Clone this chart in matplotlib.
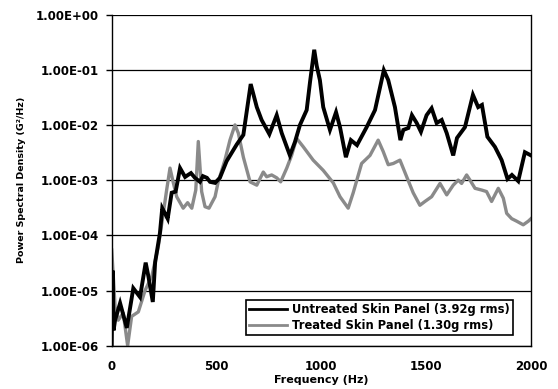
import matplotlib
matplotlib.use("Agg")
import matplotlib.pyplot as plt
from matplotlib.lines import Line2D
from matplotlib.ticker import FixedLocator, FuncFormatter, NullLocator

# ---- data ----
untreated_freq = [0, 4, 9, 16, 40, 72, 103, 135, 162, 175, 196, 207, 230, 241, 254, 267,
                  286, 305, 326, 350, 364, 378, 397, 421, 435, 454, 469, 493, 516, 548,
                  596, 628, 636, 663, 692, 715, 752, 787, 811, 850, 874, 898, 930, 946,
                  966, 978, 993, 1009, 1041, 1070, 1089, 1117, 1141, 1170, 1216, 1256,
                  1298, 1319, 1351, 1377, 1391, 1415, 1432, 1455, 1475, 1502, 1526, 1550,
                  1574, 1598, 1629, 1647, 1685, 1723, 1748, 1766, 1792, 1828, 1860, 1888,
                  1909, 1939, 1971, 2000]
untreated_psd = [1.0e-6, 2.3e-5, 1.9e-6, 2.9e-6, 5.9e-6, 2.1e-6, 1.1e-5, 7.6e-6, 3.2e-5,
                 1.8e-5, 6.2e-6, 3.2e-5, 1.1e-4, 3.1e-4, 2.5e-4, 2.0e-4, 5.9e-4, 6.2e-4,
                 1.65e-3, 1.14e-3, 1.24e-3, 1.34e-3, 1.1e-3, 9.3e-4, 1.18e-3, 1.1e-3,
                 9.3e-4, 8.9e-4, 1.1e-3, 2.2e-3, 4.4e-3, 6.6e-3, 1.08e-2, 5.5e-2, 2.1e-2,
                 1.23e-2, 6.8e-3, 1.5e-2, 7.1e-3, 2.8e-3, 4.9e-3, 1.0e-2, 1.86e-2, 6.0e-2,
                 0.23, 0.117, 6.5e-2, 2.1e-2, 8.1e-3, 1.7e-2, 9.1e-3, 2.6e-3, 5.3e-3,
                 4.3e-3, 9.1e-3, 1.86e-2, 0.098, 6.5e-2, 2.1e-2, 5.3e-3, 8.1e-3, 8.8e-3,
                 1.5e-2, 1.08e-2, 7.5e-3, 1.5e-2, 2.0e-2, 1.08e-2, 1.23e-2, 7.1e-3, 2.8e-3,
                 5.8e-3, 9.1e-3, 3.5e-2, 2.1e-2, 2.3e-2, 6.1e-3, 4.0e-3, 2.3e-3, 1.05e-3,
                 1.24e-3, 9.6e-4, 3.2e-3, 2.8e-3]

treated_freq = [0, 6, 16, 31, 55, 76, 95, 127, 159, 191, 222, 246, 262, 278, 294, 310,
                341, 362, 382, 401, 413, 429, 445, 464, 493, 508, 540, 564, 588, 604,
                628, 660, 692, 723, 739, 763, 787, 806, 835, 858, 882, 914, 961, 1009,
                1057, 1089, 1128, 1152, 1192, 1232, 1271, 1295, 1319, 1343, 1375, 1407,
                1438, 1470, 1494, 1526, 1566, 1598, 1629, 1653, 1669, 1693, 1709, 1733,
                1765, 1788, 1812, 1828, 1844, 1868, 1884, 1908, 1932, 1963, 1987, 2000]
treated_psd = [5.4e-5, 2.3e-5, 5.1e-6, 2.9e-6, 3.9e-6, 1.0e-6, 3.4e-6, 4.1e-6, 1.0e-5,
               1.8e-5, 6.2e-5, 2.5e-4, 6.6e-4, 1.65e-3, 8.9e-4, 5.0e-4, 3.1e-4, 3.9e-4,
               3.1e-4, 6.6e-4, 5.0e-3, 6.2e-4, 3.3e-4, 3.1e-4, 5.0e-4, 9.3e-4, 2.3e-3,
               5.3e-3, 1.0e-2, 7.1e-3, 2.6e-3, 9.3e-4, 8.1e-4, 1.4e-3, 1.15e-3, 1.24e-3,
               1.1e-3, 9.3e-4, 1.65e-3, 2.8e-3, 5.7e-3, 4.0e-3, 2.3e-3, 1.5e-3, 8.9e-4,
               5.0e-4, 3.1e-4, 5.9e-4, 2.0e-3, 2.8e-3, 5.3e-3, 3.3e-3, 1.9e-3, 2.0e-3,
               2.3e-3, 1.15e-3, 5.9e-4, 3.5e-4, 4.1e-4, 5.0e-4, 8.7e-4, 5.4e-4, 8.1e-4,
               1.0e-3, 8.7e-4, 1.24e-3, 1.0e-3, 7.1e-4, 6.6e-4, 6.2e-4, 4.1e-4, 5.4e-4,
               7.1e-4, 4.7e-4, 2.5e-4, 2.0e-4, 1.8e-4, 1.55e-4, 1.8e-4, 2.0e-4]

series_labels = ["Untreated Skin Panel (3.92g rms)", "Treated Skin Panel (1.30g rms)"]
x_ticks = [0, 500, 1000, 1500, 2000]
y_ticks = [1e-6, 1e-5, 1e-4, 1e-3, 1e-2, 1e-1, 1e0]
x_label = "Frequency (Hz)"
y_label = "Power Spectral Density (G²/Hz)"

# ---- figure ----
plt.rcParams['font.family'] = ['DejaVu Sans']
fig = plt.figure(figsize=(5.58, 3.89), dpi=100)
ax = fig.add_axes([0.2002, 0.1113, 0.7514, 0.8514])

ax.set_yscale('log')
ax.set_xlim(0, 2000)
ax.set_ylim(1e-6, 1e0)

for y in y_ticks:
    ax.axhline(y, color='black', lw=0.9, zorder=1)

black_col = 'black'
gray_col = '#8a8a8a'
ax.plot(untreated_freq, untreated_psd, color=black_col, lw=2.8,
        solid_joinstyle='miter', zorder=3)
ax.plot(treated_freq, treated_psd, color=gray_col, lw=2.4, zorder=2)

ax.yaxis.set_major_locator(FixedLocator(y_ticks))
ax.yaxis.set_minor_locator(NullLocator())
ax.yaxis.set_major_formatter(FuncFormatter(lambda v, p: f"{v:.2E}"))
ax.set_xticks(x_ticks)
ax.set_xticklabels([str(t) for t in x_ticks])

ax.tick_params(axis='y', length=4, width=1, pad=5, labelsize=8.5)
ax.tick_params(axis='x', length=0, pad=10, labelsize=8.5)
for lab in ax.get_xticklabels() + ax.get_yticklabels():
    lab.set_fontweight('bold')

for side in ['left', 'bottom', 'right']:
    ax.spines[side].set_color('black')
    ax.spines[side].set_linewidth(1.0)
ax.spines['top'].set_visible(False)

ax.set_xlabel(x_label, fontsize=8, fontweight='bold', labelpad=2)
ax.set_ylabel(y_label, fontsize=6.8, fontweight='bold', labelpad=7)

handles = [Line2D([], [], color=black_col, lw=2.0),
           Line2D([], [], color=gray_col, lw=2.0)]
leg = ax.legend(handles=handles, labels=series_labels, loc='lower right',
                bbox_to_anchor=(513 / 558, 1 - 335 / 389),
                bbox_transform=fig.transFigure, borderaxespad=0,
                fancybox=False, framealpha=1, edgecolor='black',
                prop={'weight': 'bold', 'size': 8.3},
                handlelength=3.3, handletextpad=0.45, borderpad=0.25,
                labelspacing=0.3)
leg.get_frame().set_linewidth(1.2)

fig.savefig("out.png", dpi=100)
